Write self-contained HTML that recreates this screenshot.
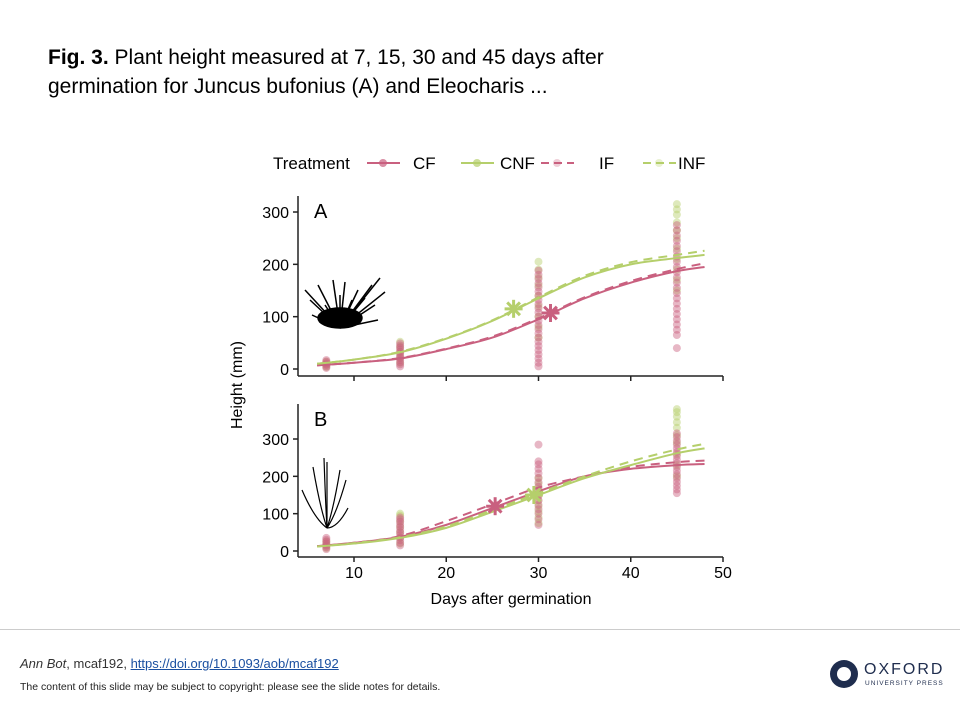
<!DOCTYPE html>
<html><head><meta charset="utf-8"><style>
body{margin:0;width:960px;height:720px;background:#fff;font-family:"Liberation Sans",sans-serif;position:relative;overflow:hidden}
.t{position:absolute;left:48px;top:43px;font-size:21px;line-height:29px;color:#000}
</style></head><body>
<div class="t"><b>Fig. 3.</b> Plant height measured at 7, 15, 30 and 45 days after<br>germination for Juncus bufonius (A) and Eleocharis ...</div>
<svg id="c" width="960" height="720" style="position:absolute;left:0;top:0" font-family="Liberation Sans, sans-serif"></svg>
<div style="position:absolute;left:0;top:629px;width:960px;border-top:1px solid #ccc"></div>
<div style="position:absolute;left:20px;top:656px;font-size:13px;color:#333"><i>Ann Bot</i>, mcaf192, <a style="color:#1a4fa0;text-decoration:underline">https://doi.org/10.1093/aob/mcaf192</a></div>
<div style="position:absolute;left:20px;top:681px;font-size:10.5px;color:#222">The content of this slide may be subject to copyright: please see the slide notes for details.</div>
<div style="position:absolute;left:830px;top:660px;width:28px;height:28px;border-radius:50%;background:#1f2d4e"><div style="position:absolute;left:7px;top:7px;width:14px;height:14px;border-radius:50%;background:#fff"></div></div>
<div style="position:absolute;left:864px;top:661px;font-size:16px;letter-spacing:2px;color:#1f2d4e">OXFORD</div>
<div style="position:absolute;left:865px;top:680px;font-size:6.5px;letter-spacing:1px;color:#1f2d4e">UNIVERSITY PRESS</div>
<script>
const days=[6,10,15,20,25,30,35,40,45,48];
const aCF=[7,12,20,38,60,95,135,165,187,195];
const aIF=[7,12,21,39,62,97,137,168,191,202];
const aCNF=[10,18,32,58,92,135,175,200,212,218];
const aINF=[10,18,33,59,93,137,178,204,218,226];
const bCF=[13,22,38,70,115,160,200,220,230,233];
const bIF=[13,22,40,80,125,170,200,225,238,242];
const bCNF=[12,20,35,62,105,150,195,230,262,275];
const bINF=[12,21,37,66,110,155,200,240,272,287];
const sampleDays=[7,15,30,45];
const aPink=[[2,5,8,11,14,17],[5,9,13,17,21,25,29,33,37,41,45,49],[5,12,20,28,36,44,52,60,68,76,84,92,100,108,116,124,132,140,148,156,164,172,180,188],[40,65,75,85,95,105,115,125,135,145,155,165,175,185,195,205,215,225,235,245,255,265,275]];
const aGreen=[[4,9,14],[12,22,32,42,52],[60,80,100,120,140,160,175,190,205],[150,170,190,210,230,250,265,280,295,305,315]];
const bPink=[[5,10,15,20,25,30,35],[15,22,29,36,43,50,57,64,71,78,85,90],[70,85,100,112,124,136,148,160,172,184,196,208,220,232,240,285],[155,165,175,185,195,205,215,225,235,245,255,265,275,285,295,305,315]];
const bGreen=[[8,14,20,26],[20,35,50,65,80,95,100],[75,90,105,120,135,150,165,180,195],[200,230,260,290,310,330,345,360,372,380]];
const aStars=[[27.3,115,'g'],[31.3,107,'p']];
const bStars=[[25.3,120,'p'],[29.5,150,'g']];
const P='#c9607f',G='#b5cf6b';
const svg=document.getElementById('c');const NS='http://www.w3.org/2000/svg';
function mk(t,a,p){const e=document.createElementNS(NS,t);for(const k in a)e.setAttribute(k,a[k]);(p||svg).appendChild(e);return e}
const x=d=>261.75+d*9.225;
function path(xs,ys,sx,sy){const p=xs.map((d,i)=>[sx(d),sy(ys[i])]);let s='M'+p[0];for(let i=0;i<p.length-1;i++){const p0=p[i-1]||p[i],p1=p[i],p2=p[i+1],p3=p[i+2]||p2;s+=' C'+(p1[0]+(p2[0]-p0[0])/6)+','+(p1[1]+(p2[1]-p0[1])/6)+' '+(p2[0]-(p3[0]-p1[0])/6)+','+(p2[1]-(p3[1]-p1[1])/6)+' '+p2}return s}
function star(cx,cy,c){const g=mk('g',{});for(let i=0;i<4;i++){const a=i*Math.PI/4;mk('line',{x1:cx-9*Math.cos(a),y1:cy-9*Math.sin(a),x2:cx+9*Math.cos(a),y2:cy+9*Math.sin(a),stroke:c,'stroke-width':3},g)}}
function panel(name,y0,k,top,bot,ticks,series,pink,green,stars){
 const y=v=>y0-v*k;
 const g=mk('g',{});
 mk('line',{x1:298,y1:top,x2:298,y2:bot,stroke:'#222','stroke-width':1.5},g);
 mk('line',{x1:298,y1:bot,x2:723,y2:bot,stroke:'#222','stroke-width':1.5},g);
 [10,20,30,40,50].forEach(t=>mk('line',{x1:x(t),y1:bot,x2:x(t),y2:bot+5,stroke:'#222','stroke-width':1.5},g));
 ticks.forEach(t=>{mk('line',{x1:293,y1:y(t),x2:298,y2:y(t),stroke:'#222','stroke-width':1.5},g);const tx=mk('text',{x:289,y:y(t)+6,'text-anchor':'end','font-size':16},g);tx.textContent=t;});
 const L=mk('text',{x:314,y:top+22,'font-size':20},g);L.textContent=name;
 [[green,G],[pink,P]].forEach(([arr,c])=>arr.forEach((vals,i)=>vals.forEach(v=>{const d=mk('circle',{cx:x(sampleDays[i]),cy:y(v),r:4,fill:c,opacity:0.45},g);})));
 series.forEach(([ys,c,dash])=>{const e=mk('path',{d:path(days,ys,x,y),fill:'none',stroke:c,'stroke-width':2,'stroke-dasharray':dash?'9,6':'none'},g);});
 stars.forEach(s=>star(x(s[0]),y(s[1]),s[2]=='g'?G:P));
}
panel('A',369,0.5233,196,376,[0,100,200,300],[[aCF,P,0],[aIF,P,1],[aCNF,G,0],[aINF,G,1]],aPink,aGreen,aStars);
panel('B',551,0.3733,404,557,[0,100,200,300],[[bCF,P,0],[bIF,P,1],[bCNF,G,0],[bINF,G,1]],bPink,bGreen,bStars);
[10,20,30,40,50].forEach(t=>{const e=mk('text',{x:x(t),y:578,'text-anchor':'middle','font-size':16});e.textContent=t;});
let e=mk('text',{x:511,y:604,'text-anchor':'middle','font-size':16});e.textContent='Days after germination';
e=mk('text',{x:242,y:385,'text-anchor':'middle','font-size':16,transform:'rotate(-90 242 385)'});e.textContent='Height (mm)';
e=mk('text',{x:273,y:169,'font-size':17});e.textContent='Treatment';
[[367,413,'CF',P,0],[461,500,'CNF',G,0],[541,599,'IF',P,1],[643,678,'INF',G,1]].forEach(([lx,tx,t,c,d])=>{const g=mk('g',{});mk('line',{x1:lx,y1:163,x2:lx+33,y2:163,stroke:c,'stroke-width':2,'stroke-dasharray':d?'8,5':'none'},g);mk('circle',{cx:lx+16,cy:163,r:4,fill:c,opacity:d?0.3:0.7},g);const tt=mk('text',{x:tx,y:169,'font-size':17},g);tt.textContent=t;});
const pa=mk('g',{stroke:'#000','stroke-width':1.5,fill:'none'});
[[305,290],[310,300],[318,285],[325,305],[333,280],[340,295],[345,282],[352,300],[358,290],[365,298],[372,285],[380,278],[385,292],[375,305],[312,315],[378,320]].forEach(([tx,ty])=>mk('path',{d:`M340,328 Q${(340+tx)/2},${(328+ty)/2} ${tx},${ty}`},pa));
mk('ellipse',{cx:340,cy:318,rx:22,ry:10,fill:'#000'},pa);
const pb=mk('g',{stroke:'#000','stroke-width':1.2,fill:'none'});
[[313,467],[324,458],[327,462],[340,470],[346,480],[302,490],[348,508]].forEach(([tx,ty])=>mk('path',{d:`M327,528 Q${(327+tx)/2},${(528+ty)/2+10} ${tx},${ty}`},pb));
</script>
</body></html>
